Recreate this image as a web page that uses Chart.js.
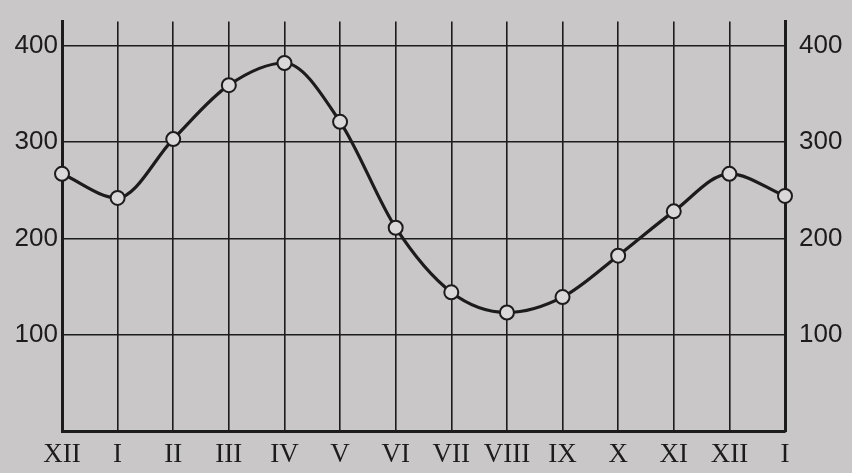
<!DOCTYPE html>
<html>
<head>
<meta charset="utf-8">
<script src="https://cdn.jsdelivr.net/npm/chart.js"></script>
<style>
  html, body { margin: 0; padding: 0; background: #c9c7c7; }
  #wrap { width: 852px; height: 473px; }
</style>
</head>
<body>
<div id="wrap"><canvas id="chart" width="852" height="473"></canvas></div>
<script>
// months, starting with December of the previous year
const months = ['XII', 'I', 'II', 'III', 'IV', 'V', 'VI', 'VII', 'VIII', 'IX', 'X', 'XI', 'XII', 'I'];
const values = [267, 242, 303, 359, 382, 321, 211, 144, 123, 139, 182, 228, 267, 244];
const yTicks = [0, 100, 200, 300, 400];

const ink = '#1c1c1c';
const numFont = { family: 'Liberation Sans', size: 26 };

function fixedTicks(axis) {
    axis.ticks = yTicks.map(v => ({ value: v }));
}

const ctx = document.getElementById('chart').getContext('2d');

new Chart(ctx, {
    type: 'line',
    data: {
        labels: months,
        datasets: [{
            data: values,
            borderColor: ink,
            borderWidth: 3.2,
            cubicInterpolationMode: 'monotone',
            pointRadius: 7,
            pointHoverRadius: 7,
            pointBackgroundColor: '#dad8d8',
            pointBorderColor: ink,
            pointBorderWidth: 2,
            clip: false,
        }],
    },
    options: {
        responsive: false,
        animation: false,
        layout: { padding: { top: 17, left: 0, right: 0, bottom: 0 } },
        plugins: {
            legend: { display: false },
            tooltip: { enabled: false },
        },
        scales: {
            x: {
                offset: false,
                grid: { color: ink, lineWidth: 1.6, drawTicks: false },
                border: { color: ink, width: 3 },
                ticks: {
                    color: ink,
                    padding: 8,
                    maxRotation: 0,
                    autoSkip: false,
                    font: { family: 'Liberation Serif', size: 27 },
                },
                afterFit: axis => { axis.height = 42; },
            },
            y: {
                position: 'left',
                min: 0,
                max: 425,
                afterBuildTicks: fixedTicks,
                grid: { color: ink, lineWidth: 1.6, drawTicks: false },
                border: { color: ink, width: 3 },
                ticks: {
                    color: ink,
                    padding: 4,
                    font: numFont,
                    callback: v => (v === 0 ? '' : v),
                },
                afterFit: axis => { axis.width = 62; },
            },
            y2: {
                position: 'right',
                min: 0,
                max: 425,
                afterBuildTicks: fixedTicks,
                grid: { display: false },
                border: { color: ink, width: 3 },
                ticks: {
                    color: ink,
                    padding: 6,
                    font: numFont,
                    callback: v => (v === 0 ? '' : v),
                },
                afterFit: axis => { axis.width = 67; },
            },
        },
    },
});
</script>
</body>
</html>
